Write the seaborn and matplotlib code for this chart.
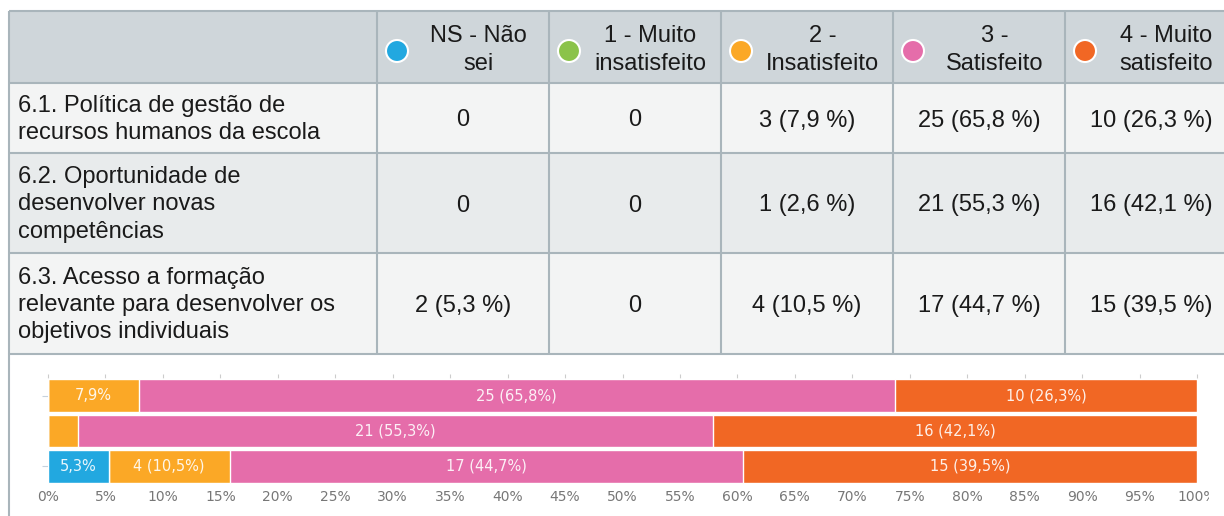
"""Satisfaction table with stacked horizontal bar summary."""

import matplotlib.pyplot as plt
import pandas as pd
import seaborn as sns
from matplotlib.patches import Circle, Rectangle
from matplotlib.transforms import Bbox

# ---- data -------------------------------------------------------------
categories = [
    "NS - Não\nsei",
    "1 - Muito\ninsatisfeito",
    "2 -\nInsatisfeito",
    "3 -\nSatisfeito",
    "4 - Muito\nsatisfeito",
]
cat_colors = ["#22a8e0", "#8bc34a", "#fba826", "#e56daa", "#f16724"]
questions = [
    "6.1. Política de gestão de\nrecursos humanos da escola",
    "6.2. Oportunidade de\ndesenvolver novas\ncompetências",
    "6.3. Acesso a formação\nrelevante para desenvolver os\nobjetivos individuais",
]
counts = [
    [0, 0, 3, 25, 10],
    [0, 0, 1, 21, 16],
    [2, 0, 4, 17, 15],
]
percents = [
    [0.0, 0.0, 7.9, 65.8, 26.3],
    [0.0, 0.0, 2.6, 55.3, 42.1],
    [5.3, 0.0, 10.5, 44.7, 39.5],
]
x_ticks = list(range(0, 101, 5))

# ---- layout (pixels) --------------------------------------------------
W, H = 1224, 516
col_edges = [9, 377, 549, 721, 893, 1065, 1237]
row_edges = [11, 83, 153, 253, 354]
row_bg = ["#cfd6da", "#f3f4f4", "#e8ebec", "#f3f4f4"]
border = "#a9b5bb"
TXT = "#1a1a1a"
FONT = ["Liberation Sans", "DejaVu Sans"]


def fmt_cell(c, p):
    if c == 0:
        return "0"
    return f"{c} ({p:.1f} %)".replace(".", ",")


sns.set_theme(style="white")
plt.rcParams["font.family"] = ["DejaVu Sans"]

fig = plt.figure(figsize=(W / 100, H / 100), dpi=100, facecolor="white")

# ---- table ------------------------------------------------------------
tab = fig.add_axes([0, 0, 1, 1])
tab.set_xlim(0, W)
tab.set_ylim(H, 0)
tab.axis("off")

for r in range(4):
    tab.add_patch(Rectangle((col_edges[0], row_edges[r]), col_edges[-1] - col_edges[0],
                            row_edges[r + 1] - row_edges[r], facecolor=row_bg[r],
                            edgecolor="none"))

hdr_y = (row_edges[0] + row_edges[1]) / 2
for j, (label, col) in enumerate(zip(categories, cat_colors)):
    left, right = col_edges[j + 1], col_edges[j + 2]
    cx = left + 20
    tab.add_patch(Circle((cx, hdr_y + 4), 11, facecolor=col, edgecolor="white", lw=1.5))
    tab.text((cx + 11 + right) / 2, hdr_y + 3, label, ha="center", va="center",
             fontsize=17, family=FONT, color=TXT, linespacing=1.32)

for i, q in enumerate(questions):
    cy = (row_edges[i + 1] + row_edges[i + 2]) / 2 + 1.5
    tab.text(col_edges[0] + 9, cy, q, ha="left", va="center", fontsize=17,
             family=FONT, color=TXT, linespacing=1.3)
    for j in range(len(categories)):
        cx = (col_edges[j + 1] + col_edges[j + 2]) / 2
        tab.text(cx, cy + 1, fmt_cell(counts[i][j], percents[i][j]), ha="center",
                 va="center", fontsize=17, family=FONT, color=TXT)

for y in row_edges:
    tab.plot([col_edges[0], col_edges[-1]], [y, y], color=border, lw=1.5,
             solid_capstyle="butt")
for x in col_edges:
    tab.plot([x, x], [row_edges[0], row_edges[-1]], color=border, lw=1.5,
             solid_capstyle="butt")
tab.plot([col_edges[0], col_edges[0]], [row_edges[-1], H], color=border, lw=1.5)

# ---- stacked bar chart ------------------------------------------------
ax = fig.add_axes([48 / W, (H - 484) / H, 1149 / W, 106 / H])
ax.set_facecolor("white")

df = pd.DataFrame(percents, columns=categories)
df["question"] = [f"q{i}" for i in range(len(questions))]
cum = df[categories].cumsum(axis=1)
cum["question"] = df["question"]

for j in reversed(range(len(categories))):
    sns.barplot(data=cum, x=categories[j], y="question", orient="h",
                color=cat_colors[j], saturation=1, width=0.93,
                edgecolor="white", linewidth=1, ax=ax)

for i in range(len(questions)):
    start = 0.0
    for j in range(len(categories)):
        p = percents[i][j]
        if p >= 10:
            lbl = f"{counts[i][j]} ({p:.1f}%)".replace(".", ",")
        elif p >= 5:
            lbl = f"{p:.1f}%".replace(".", ",")
        else:
            lbl = ""
        if lbl:
            ax.text(start + p / 2, i, lbl, ha="center", va="center",
                    fontsize=10.5, color="white", alpha=0.9)
        start += p

ax.set_xlim(0, 100)
ax.set_ylim(2.5, -0.5)
ax.set_xticks(x_ticks)
ax.set_xticklabels([f"{v}%" for v in x_ticks])
ax.set_yticks([0, 2])
ax.set_yticklabels([])
ax.set_xlabel("")
ax.set_ylabel("")
ax.tick_params(axis="x", top=True, bottom=False, labeltop=False, labelbottom=True,
               length=3, width=0.8, color="#cccccc", labelcolor="#777777",
               labelsize=10, pad=1)
ax.tick_params(axis="y", left=True, length=4, width=0.8, color="#c6d2de")
for s in ax.spines.values():
    s.set_visible(False)

# the last tick label is cut off by the frame in the original
last = ax.get_xticklabels()[-1]
last.set_clip_box(Bbox.from_extents(0, 0, 1209, H))
last.set_clip_on(True)

fig.savefig("out.png", dpi=100, facecolor="white")
